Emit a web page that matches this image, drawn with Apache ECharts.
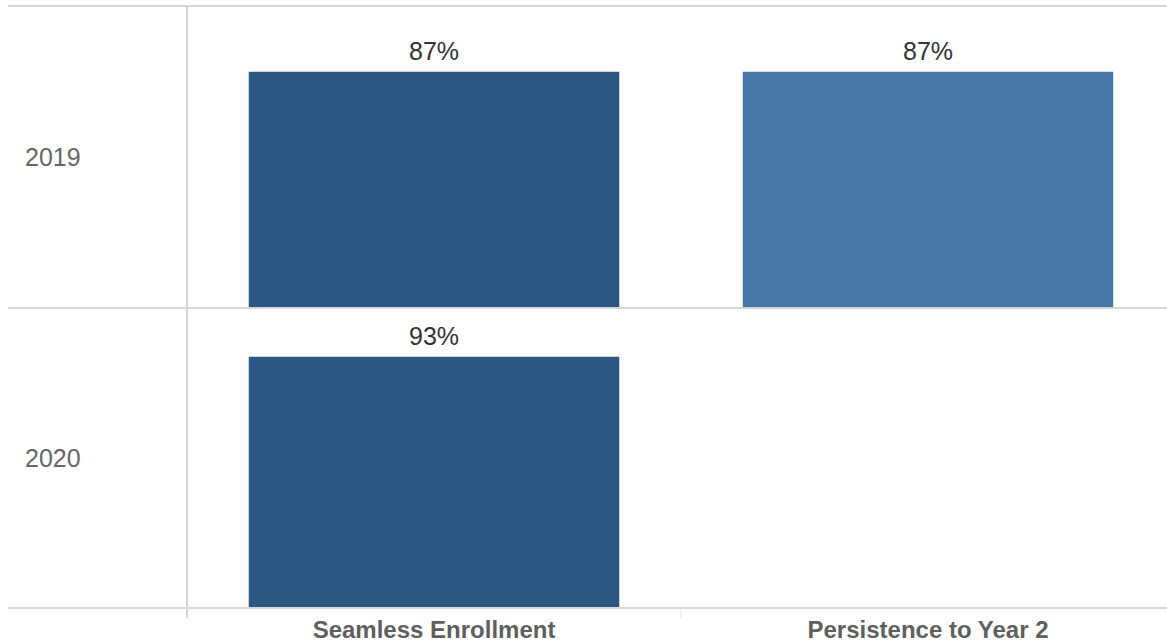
<!DOCTYPE html>
<html>
<head>
<meta charset="utf-8">
<script src="https://cdn.jsdelivr.net/npm/echarts@6/dist/echarts.min.js"></script>
<style>
html,body{margin:0;padding:0;background:#fff;}
#chart{width:1167px;height:643px;}
</style>
</head>
<body>
<div id="chart"></div>
<script>
// ---- data ----
var measures = ['Seamless Enrollment', 'Persistence to Year 2'];
var years = ['2019', '2020'];
var values2019 = [87, 87];
var values2020 = [93, null];
var barColors = ['#2c5782', '#4878a8'];

var rowData = [values2019, values2020];
var chart = echarts.init(document.getElementById('chart'), null, {renderer: 'svg'});

var rowTop = [7, 308];
var rowH = 300;
var lineColor = '#d6d6d6';

var grids = [], xAxes = [], yAxes = [], series = [], graphics = [];
rowData.forEach(function (vals, r) {
  grids.push({left: 187, width: 988, top: rowTop[r], height: rowH,
    containLabel: false, outerBoundsMode: 'none'});
  xAxes.push({
    type: 'category', gridIndex: r, data: measures,
    axisLine: {show: false}, axisTick: {show: false},
    axisLabel: {
      show: r === rowData.length - 1, margin: 9,
      fontFamily: 'Liberation Sans', fontWeight: 'bold', fontSize: 24, color: '#5f5f5f'
    }
  });
  yAxes.push({
    type: 'value', gridIndex: r, min: 0, max: 111,
    show: false, splitLine: {show: false}
  });
  series.push({
    type: 'bar', xAxisIndex: r, yAxisIndex: r, barWidth: '75%',
    data: vals.map(function (v, i) {
      return {value: v, itemStyle: {color: barColors[i]}};
    }),
    label: {
      show: true, position: 'top', distance: 8,
      fontFamily: 'Liberation Sans', fontSize: 25, color: '#333333',
      formatter: function (p) { return p.value == null ? '' : p.value + '%'; }
    },
    silent: true, animation: false
  });
  graphics.push({
    type: 'text', left: 25, top: rowTop[r] + rowH / 2 - 13,
    style: {text: years[r], fontFamily: 'Liberation Sans', fontSize: 25, fill: '#666666'}
  });
});

// divider lines (decoration)
[6, 308, 608].forEach(function (y) {
  graphics.push({type: 'line', shape: {x1: 8, y1: y, x2: 1167, y2: y},
    style: {stroke: lineColor, lineWidth: 2}, z: 10});
});
graphics.push({type: 'line', shape: {x1: 187, y1: 6, x2: 187, y2: 618},
  style: {stroke: lineColor, lineWidth: 2}, z: 10});
graphics.push({type: 'line', shape: {x1: 681, y1: 608, x2: 681, y2: 618},
  style: {stroke: '#e6e6e6', lineWidth: 1}, z: 10});

chart.setOption({
  animation: false,
  grid: grids,
  xAxis: xAxes,
  yAxis: yAxes,
  series: series,
  graphic: graphics
});
</script>
</body>
</html>
